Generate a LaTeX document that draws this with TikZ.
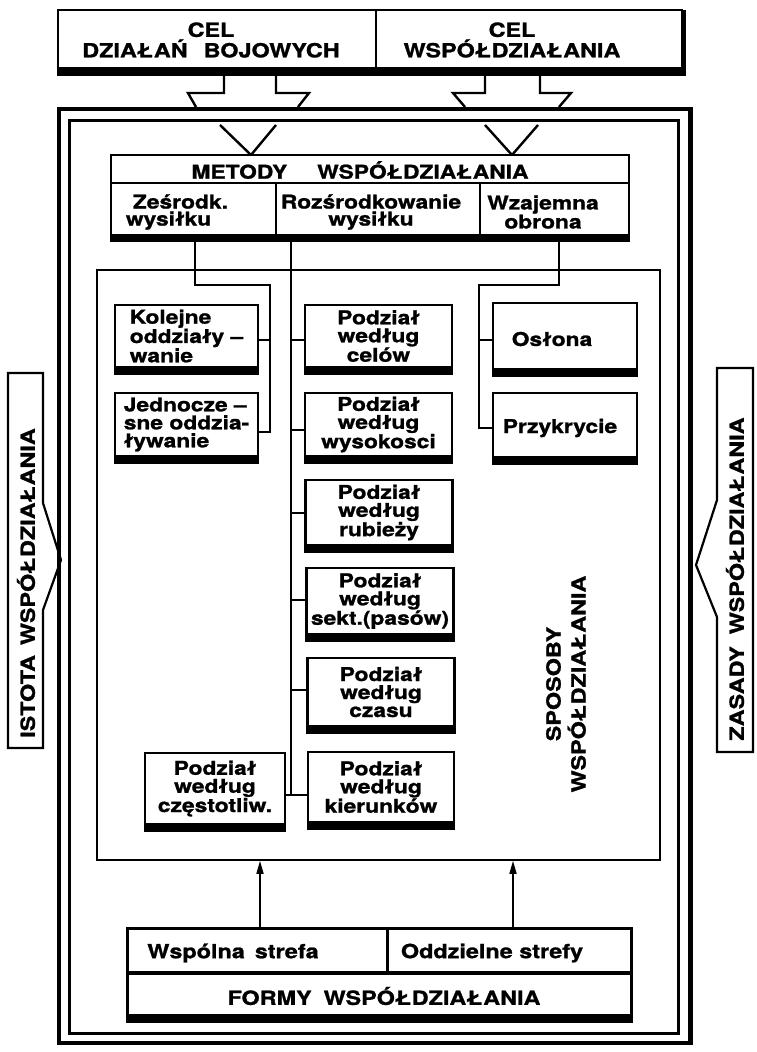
\documentclass[tikz,border=0pt]{standalone}
\usepackage{fontspec}
\setmainfont{TeX Gyre Heros}[FakeStretch=1.2,BoldFeatures={FakeBold=1.2}]
\usetikzlibrary{arrows.meta,calc}
\newcommand\dgf{\fontsize{19}{18}\selectfont\bfseries}
\newcommand\dgbig{\fontsize{19.5}{20.5}\selectfont\bfseries}
\newcommand\dgrow{\fontsize{19}{17}\selectfont\bfseries}
\newcommand\dgside{\fontsize{19.5}{25}\selectfont\bfseries}
\tikzset{
  box/.style={draw,line width=2.7pt,fill=white,inner sep=0pt,outer sep=0pt,align=center,font=\dgf},
  lbl/.style={inner sep=0pt,align=center,font=\dgf},
  conn/.style={line width=1.8pt},
  blockarrow/.style={line width=2.4pt,line join=miter},
  arr/.style={line width=1.6pt,-{Triangle[length=13pt,width=7pt]}},
}
\begin{document}
\begin{tikzpicture}[x=1pt,y=-1pt]
\useasboundingbox (0,0) rectangle (756,1052);

% ---------- outer double frame ----------
\draw[line width=4.5pt] (59,109) rectangle (690.5,1043);
\draw[line width=3pt] (69,120.5) rectangle (678,1033);

% ---------- top boxes ----------
\node[box,minimum width=318pt,minimum height=58pt] (cel1) at (217,39) {};
\node[box,minimum width=306pt,minimum height=58pt] (cel2) at (529,39) {};
\fill ([xshift=-1.3pt]cel1.south west) rectangle ([xshift=1.3pt,yshift=-8pt]cel2.south east);
\fill ([xshift=-1.3pt]cel2.north east) rectangle ([xshift=3.5pt,yshift=-8pt]cel2.south east);
\node[lbl,font=\dgbig] (cel1t) at (211,40) {CEL\\DZIAŁAŃ\hspace{16pt}BOJOWYCH};
\node[lbl,font=\dgbig] (cel2t) at (512,40) {CEL\\WSPÓŁDZIAŁANIA};

% block arrows from the top boxes
\coordinate (ta1) at (224,76); \coordinate (ta2) at (276,76);
\coordinate (ta3) at (485,76); \coordinate (ta4) at (540,76);
\draw[blockarrow] (ta1) -- (224,93) -- (188,93) -- (196,107);
\draw[blockarrow] (ta2) -- (276,93) -- (309,93) -- (298,107);
\draw[blockarrow] (ta3) -- (485,93) -- (453,93) -- (465,107);
\draw[blockarrow] (ta4) -- (540,93) -- (571,93) -- (559,107);
\draw[blockarrow] (220,125) -- (251,155) -- (276,125);
\draw[blockarrow] (485,125) -- (512,155) -- (538,125);

% ---------- SPOSOBY frame ----------
\node[draw,line width=1.6pt,minimum width=563pt,minimum height=590pt,inner sep=0pt] (sp) at (378.5,565) {};
\node[lbl,rotate=90,font=\dgside] (spt) at (566,684) {SPOSOBY\\WSPÓŁDZIAŁANIA};

% ---------- METODY box ----------
\node[box,line width=2.8pt,minimum width=518pt,minimum height=28pt] (mh) at (370,169) {};
\node[box,line width=2.8pt,minimum width=165pt,minimum height=52pt] (m1) at (193.5,209) {};
\node[box,line width=2.8pt,minimum width=204pt,minimum height=52pt] (m2) at (378,209) {};
\node[box,line width=2.8pt,minimum width=149pt,minimum height=52pt] (m3) at (554.5,209) {};
\fill ([xshift=-1.4pt]m1.south west) rectangle ([xshift=1.4pt,yshift=-7pt]m3.south east);
\node[lbl,font=\dgrow] (mht) at (360,170) {METODY\hspace{30pt}WSPÓŁDZIAŁANIA};
\node[lbl,font=\dgrow,align=left] (m1t) at (177,212) {\hspace*{7pt}Ześrodk.\\wysiłku};
\node[lbl,font=\dgrow] (m2t) at (371,212) {Rozśrodkowanie\\wysiłku};
\node[lbl,font=\dgrow] (m3t) at (543,212) {Wzajemna\\obrona};

% ---------- way boxes ----------
\node[box,align=left,minimum width=143pt,minimum height=62pt] (kol) at (186.5,336) {Kolejne\\oddziały –\\wanie};
\node[box,align=left,minimum width=143pt,minimum height=63pt] (jedn) at (186.5,424.5) {Jednocze –\\sne oddzia-\\ływanie};
\node[box,minimum width=147pt,minimum height=62pt] (p1) at (378.5,336) {Podział\\według\\celów};
\node[box,minimum width=147pt,minimum height=63pt] (p2) at (378.5,424.5) {Podział\\według\\wysokosci};
\node[box,minimum width=147pt,minimum height=65pt] (p3) at (379,512.5) {Podział\\według\\rubieży};
\node[box,minimum width=147pt,minimum height=66pt] (p4) at (380,601) {Podział\\według\\sekt.(pasów)};
\node[box,minimum width=147pt,minimum height=68pt] (p5) at (381,692) {Podział\\według\\czasu};
\node[box,minimum width=146pt,minimum height=70pt] (p6) at (381,787) {Podział\\według\\kierunków};
\node[box,minimum width=140pt,minimum height=71pt] (cz) at (215,788.5) {Podział\\według\\częstotliw.};
\node[box,minimum width=144pt,minimum height=66pt] (osl) at (565,336) {};
\node[box,minimum width=144pt,minimum height=64pt] (prz) at (565,425) {};
\node[lbl] (oslt) at (552,339) {Osłona};
\node[lbl] (przt) at (560,428) {Przykrycie};
\foreach \n in {kol,jedn,p1,p2,p3,p4,p5,p6,cz,osl,prz}
  \fill ([xshift=-1.35pt]\n.south west) rectangle ([xshift=1.35pt,yshift=-8pt]\n.south east);

% ---------- connectors ----------
\coordinate (l0) at (195,285); \coordinate (l1) at (270,285);
\coordinate (l2) at (270,340); \coordinate (l3) at (270,432);
\draw[conn] (m1.south -| l0) -- (l0) -- (l1) -- (l3) -- (jedn.east |- l3);
\draw[conn] (l2) -- (kol.east |- l2);

\coordinate (b1) at (291,340); \coordinate (b2) at (291,430);
\coordinate (b3) at (291,513); \coordinate (b4) at (291,600);
\coordinate (b5) at (291,690); \coordinate (b6) at (291,795);
\draw[conn] (m2.south -| b1) -- (b6);
\draw[conn] (b1) -- (p1.west |- b1);
\draw[conn] (b2) -- (p2.west |- b2);
\draw[conn] (b3) -- (p3.west |- b3);
\draw[conn] (b4) -- (p4.west |- b4);
\draw[conn] (b5) -- (p5.west |- b5);
\draw[conn] (cz.east |- b6) -- (p6.west |- b6);

\coordinate (r0) at (559,285); \coordinate (r1) at (479,285);
\coordinate (r2) at (479,340); \coordinate (r3) at (479,428);
\draw[conn] (m3.south -| r0) -- (r0) -- (r1) -- (r3) -- (prz.west |- r3);
\draw[conn] (r2) -- (osl.west |- r2);

% ---------- FORMY box ----------
\node[box,line width=3pt,minimum width=260pt,minimum height=45pt] (f1) at (257,950.5) {};
\node[box,line width=3pt,minimum width=244pt,minimum height=45pt] (f2) at (509,950.5) {};
\node[box,line width=3pt,minimum width=504pt,minimum height=42pt] (fm) at (379,994) {};
\draw[line width=4pt] (fm.north west) -- (fm.north east);
\fill ([xshift=-1.5pt]fm.south west) rectangle ([xshift=1.5pt,yshift=-8pt]fm.south east);
\node[lbl,font=\fontsize{19.5}{20}\selectfont\bfseries] (f1t) at (233,953) {Wspólna\hspace{10pt}strefa};
\node[lbl,font=\fontsize{19.5}{20}\selectfont\bfseries] (f2t) at (492,953) {Oddzielne strefy};
\node[lbl,font=\fontsize{19.5}{20}\selectfont\bfseries] (fmt) at (384,996) {FORMY\hspace{12pt}WSPÓŁDZIAŁANIA};

\coordinate (a1) at (260,0); \coordinate (a2) at (513,0);
\draw[arr] (f1.north -| a1) -- (sp.south -| a1);
\draw[arr] (f2.north -| a2) -- (sp.south -| a2);

% ---------- side labels ----------
\draw[line width=2.2pt,line join=miter] (8,373) -- (43,373) -- (43,503) -- (61,560) -- (43,610) -- (43,748) -- (8,748) -- cycle;
\node[lbl,rotate=90,font=\dgside] (ist) at (26,583) {ISTOTA\hspace{10pt}WSPÓŁDZIAŁANIA};
\draw[line width=2.2pt,line join=miter] (717,368) -- (753,368) -- (753,752) -- (717,752) -- (717,617) -- (696,565) -- (717,500) -- cycle;
\node[lbl,rotate=90,font=\dgside] (zas) at (735,579) {ZASADY\hspace{12pt}WSPÓŁDZIAŁANIA};
\end{tikzpicture}
\end{document}
